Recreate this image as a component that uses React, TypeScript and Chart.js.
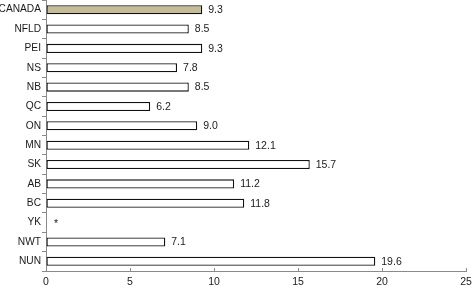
import React, { useEffect, useRef } from "react";
import { Chart, registerables } from "chart.js";

Chart.register(...registerables);

const categories = ["CANADA", "NFLD", "PEI", "NS", "NB", "QC", "ON", "MN", "SK", "AB", "BC", "YK", "NWT", "NUN"];
const values: (number | null)[] = [9.3, 8.5, 9.3, 7.8, 8.5, 6.2, 9.0, 12.1, 15.7, 11.2, 11.8, null, 7.1, 19.6];
const valueLabels = ["9.3", "8.5", "9.3", "7.8", "8.5", "6.2", "9.0", "12.1", "15.7", "11.2", "11.8", "*", "7.1", "19.6"];
const xTicks = [0, 5, 10, 15, 20, 25];

const FONT = "'Liberation Sans', Arial, Helvetica, sans-serif";
const AXIS = "#8a8a8a";

const labelPlugin = {
  id: "valueLabels",
  afterDatasetsDraw(chart: any) {
    const ctx = chart.ctx;
    const meta = chart.getDatasetMeta(0);
    const xs = chart.scales.x;
    const ys = chart.scales.y;
    ctx.save();
    ctx.font = `10.5px ${FONT}`;
    ctx.fillStyle = "#1a1a1a";
    ctx.textBaseline = "middle";
    ctx.textAlign = "left";
    values.forEach((v, i) => {
      const y = ys.getPixelForValue(i);
      if (v === null) {
        ctx.fillText(valueLabels[i], xs.getPixelForValue(0) + 8, y + 2);
      } else {
        const bar = meta.data[i];
        ctx.fillText(valueLabels[i], bar.x + 6, y + 0.5);
      }
    });
    // inward x ticks
    ctx.strokeStyle = AXIS;
    ctx.lineWidth = 1;
    const b = chart.chartArea.bottom;
    xTicks.forEach((t) => {
      const x = Math.round(xs.getPixelForValue(t)) + 0.5;
      ctx.beginPath();
      ctx.moveTo(x, b);
      ctx.lineTo(x, b - 3);
      ctx.stroke();
    });
    ctx.restore();
  },
};

export default function App() {
  const ref = useRef<HTMLCanvasElement>(null);
  useEffect(() => {
    document.body.style.margin = "0";
    const colors = categories.map((c) => (c === "CANADA" ? "#c5bc97" : "#ffffff"));
    const chart = new Chart(ref.current!, {
      type: "bar",
      data: {
        labels: categories,
        datasets: [
          {
            data: values,
            backgroundColor: colors,
            borderColor: "#111111",
            borderWidth: 1.3,
            borderSkipped: false,
            barPercentage: 0.47,
            categoryPercentage: 1,
          },
        ],
      },
      options: {
        indexAxis: "y",
        animation: false,
        responsive: false,
        maintainAspectRatio: false,
        layout: { padding: { left: 0, right: 0, top: 0, bottom: 0 } },
        plugins: { legend: { display: false }, tooltip: { enabled: false } },
        scales: {
          x: {
            min: 0,
            max: 25,
            afterBuildTicks: (s: any) => {
              s.ticks = xTicks.map((v) => ({ value: v }));
            },
            grid: { drawOnChartArea: false, drawTicks: false },
            border: { display: true, color: AXIS, width: 1 },
            ticks: { color: "#1a1a1a", font: { family: FONT, size: 10.5 }, padding: 5, maxRotation: 0 },
            afterFit: (s: any) => {
              s.height = 17;
              s.paddingLeft = 0;
              s.paddingRight = 6;
            },
          },
          y: {
            grid: { drawOnChartArea: false, drawTicks: true, tickLength: 4, color: AXIS, offset: true },
            border: { display: true, color: AXIS, width: 1 },
            ticks: { color: "#1a1a1a", font: { family: FONT, size: 10.2 }, padding: 1, autoSkip: false },
            afterFit: (s: any) => {
              s.width = 46;
              s.paddingTop = 0;
              s.paddingBottom = 0;
            },
          },
        },
      },
      plugins: [labelPlugin],
    });
    return () => chart.destroy();
  }, []);
  return (
    <div style={{ position: "fixed", left: 0, top: 0, width: 472, height: 288 }}>
      <canvas ref={ref} width={472} height={288} style={{ width: 472, height: 288 }} />
    </div>
  );
}
